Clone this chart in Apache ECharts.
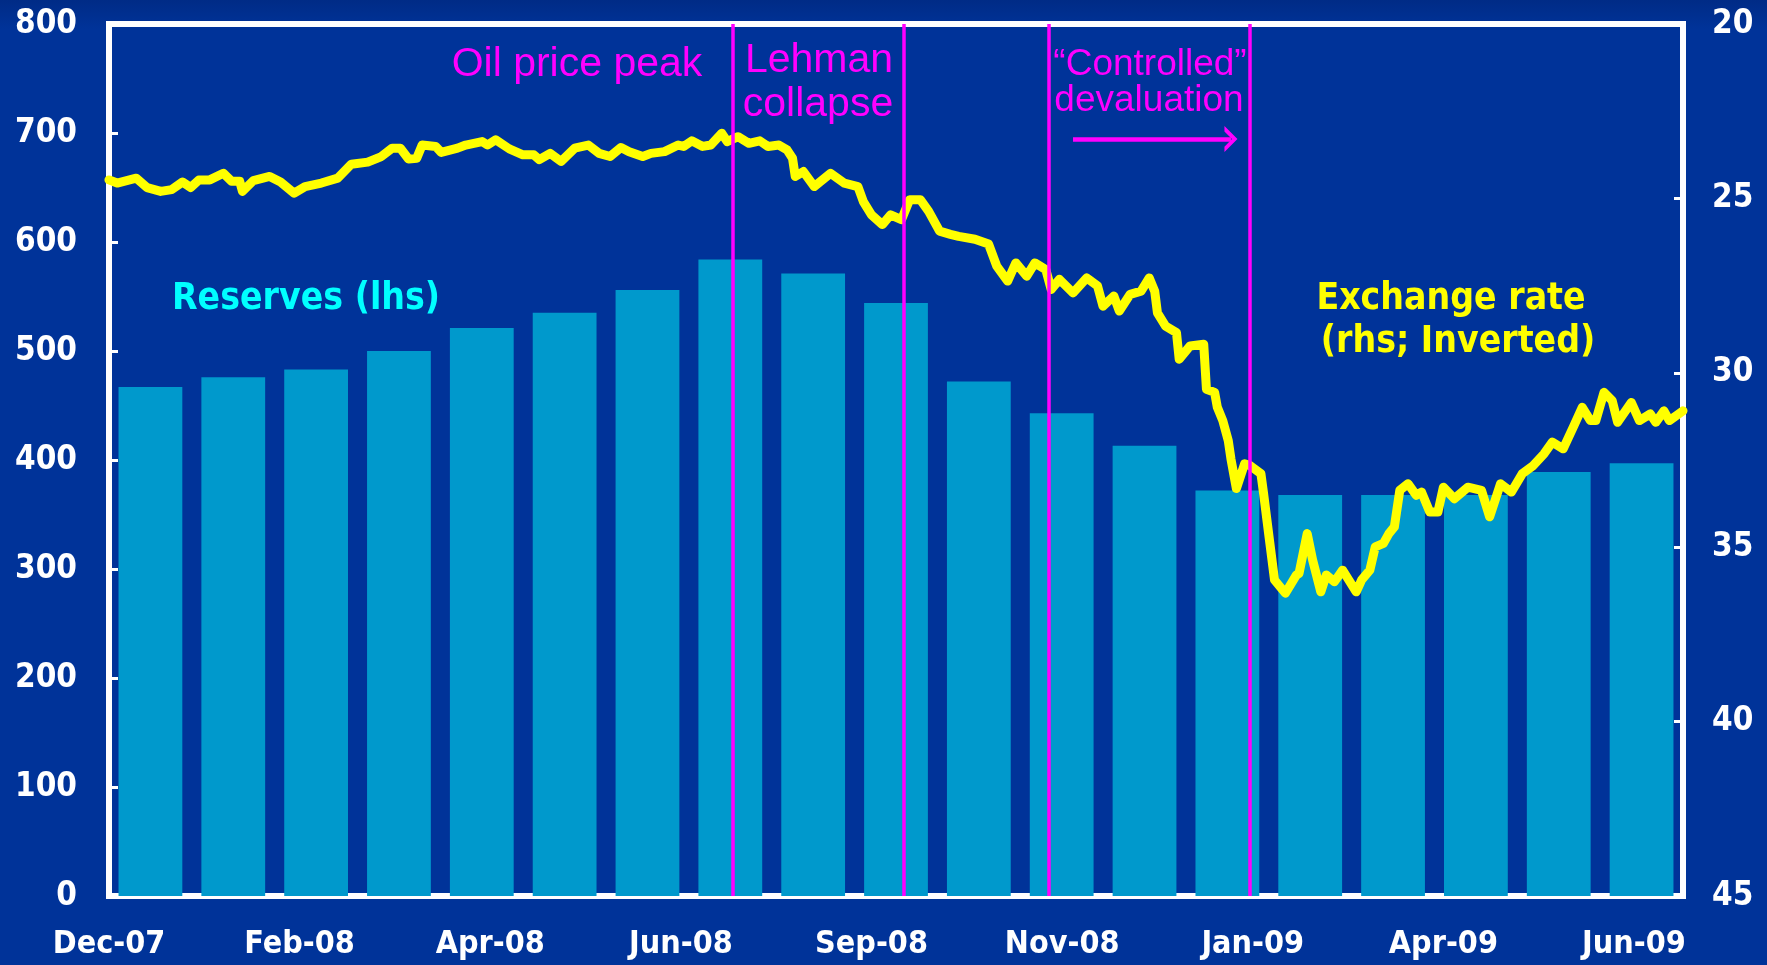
<!DOCTYPE html>
<html>
<head>
<meta charset="utf-8">
<title>Reserves and exchange rate</title>
<script src="https://cdn.jsdelivr.net/npm/echarts@6.0.0/dist/echarts.min.js"></script>
<style>
html, body { margin: 0; padding: 0; background: #003399; }
#chart { width: 1767px; height: 965px; }
</style>
</head>
<body>
<div id="chart"></div>
<script>
// monthly reserves (lhs)
var months = ['Dec-07','Jan-08','Feb-08','Mar-08','Apr-08','May-08','Jun-08','Jul-08','Aug-08','Sep-08',
	'Oct-08','Nov-08','Dec-08','Jan-09','Feb-09','Mar-09','Apr-09','May-09','Jun-09'];
var reserves = [467,476,483,500,521,535,556,584,571,544,472,443,413,372,368,368,368,389,397];

// exchange rate (rhs, inverted): days counted from 1 Dec 2007
var fxDay = [0,3,10,14,19,23,27,30,33,37,42,45,48,49,53,59,63,68,72,78,84,89,95,100,104,107,110,113,115,120,
	122,128,131,137,139,142,147,152,156,158,162,166,171,176,180,184,188,191,196,199,204,209,211,214,218,221,
	225,227,231,235,239,242,246,249,251,252,255,259,265,270,275,277,280,284,287,291,294,298,301,305,309,312,
	318,323,326,330,333,337,340,344,346,349,354,359,363,365,369,371,375,379,382,384,385,388,392,393,397,402,
	403,406,407,409,411,412,414,417,419,423,424,426,428,432,436,437,440,442,445,447,450,453,458,460,463,465,
	468,470,472,474,477,480,482,485,488,490,494,499,504,507,511,515,519,523,527,530,534,538,541,544,546,549,
	552,554,559,562,566,568,571,573,578];
var fxRate = [24.47,24.56,24.42,24.69,24.80,24.75,24.53,24.69,24.47,24.47,24.28,24.51,24.51,24.80,24.49,24.37,
	24.53,24.85,24.66,24.56,24.42,24.02,23.96,23.80,23.56,23.56,23.87,23.85,23.47,23.51,
	23.68,23.56,23.47,23.37,23.47,23.32,23.58,23.75,23.75,23.89,23.71,23.94,23.56,23.47,23.71,23.80,23.54,
	23.66,23.80,23.71,23.66,23.47,23.51,23.35,23.51,23.47,
	23.13,23.37,23.23,23.42,23.35,23.51,23.47,23.61,23.85,24.37,24.23,24.66,24.28,24.56,24.66,25.09,25.47,
	25.75,25.47,25.61,25.04,25.04,25.37,25.94,26.03,26.09,
	26.17,26.31,26.94,27.37,26.85,27.23,26.85,27.04,27.61,27.32,27.71,27.28,27.51,28.09,27.80,28.23,27.75,
	27.66,27.28,27.66,28.28,28.66,28.85,29.61,29.23,29.18,
	30.47,30.56,30.99,31.37,31.94,32.47,33.32,32.61,32.66,32.89,33.47,34.71,35.94,36.32,35.80,35.75,34.61,
	35.37,36.28,35.80,35.99,35.66,36.28,35.94,35.66,34.99,
	34.89,34.61,34.42,33.37,33.18,33.51,33.42,33.99,33.99,33.28,33.61,33.28,33.37,34.13,33.18,33.42,32.89,
	32.66,32.32,31.99,32.18,31.51,30.99,31.37,31.37,30.56,
	30.80,31.42,30.85,31.37,31.18,31.42,31.09,31.37,31.09];

// date axis labels and event lines
var xLabelDates = ['2007-12-01','2008-02-09','2008-04-19','2008-06-28','2008-09-06','2008-11-15','2009-01-24','2009-04-04','2009-06-13'];
var eventDates = ['2008-07-17','2008-09-18','2008-11-10','2009-01-23'];
var arrowDates = ['2008-11-19','2009-01-16'];
var arrowRate = 23.3;
var monthNames = ['Jan','Feb','Mar','Apr','May','Jun','Jul','Aug','Sep','Oct','Nov','Dec'];

var startDate = '2007-12-01';
var endDate = '2009-07-01';

function toTime(s){
	var p = s.split('-');
	return new Date(+p[0], +p[1]-1, +p[2]).getTime();
}
function dayToTime(d){
	return new Date(2007, 11, 1 + d).getTime();
}

var fxData = [];
for (var i = 0; i < fxDay.length; i++) {
	fxData.push([dayToTime(fxDay[i]), fxRate[i]]);
}

var tickFont = '"DejaVu Sans Condensed", "DejaVu Sans", sans-serif';
var noteFont = '"Liberation Sans", Arial, sans-serif';
var white = '#ffffff';
var chevron = 'path://M0,10 L10,0 L20,10 L15.8,10 L10,4.2 L4.2,10 Z';

var myChart = echarts.init(document.getElementById('chart'));
var option = {
	animation: false,
	backgroundColor: {
		type: 'linear', x: 0, y: 0, x2: 0, y2: 1,
		colorStops: [{offset: 0, color: '#002b86'}, {offset: 0.03, color: '#003399'}, {offset: 1, color: '#003399'}]
	},
	grid: {
		left: 109,
		right: 84,
		top: 24,
		bottom: 69,
		outerBoundsMode: 'none',
		show: true,
		borderColor: white,
		borderWidth: 6
	},
	xAxis: [
		{
			type: 'category',
			data: months,
			boundaryGap: true,
			axisLine: {lineStyle: {color: white, width: 6}},
			axisTick: {show: false},
			axisLabel: {show: false},
			splitLine: {show: false}
		},
		{
			// dates held as timestamps on a plain value axis
			type: 'value',
			position: 'bottom',
			min: toTime(startDate),
			max: toTime(endDate),
			axisLine: {show: false},
			axisTick: {show: false},
			splitLine: {show: false},
			axisLabel: {
				customValues: xLabelDates.map(toTime),
				margin: 33,
				color: white,
				fontFamily: tickFont,
				fontWeight: 'bold',
				fontSize: 32,
				formatter: function(v){
					var d = new Date(v);
					return monthNames[d.getMonth()] + '-' + String(d.getFullYear()).slice(2);
				}
			}
		}
	],
	yAxis: [
		{
			type: 'value',
			position: 'left',
			min: 0,
			max: 800,
			interval: 100,
			axisLine: {show: true, lineStyle: {color: white, width: 6}},
			axisTick: {show: true, inside: true, length: 9, lineStyle: {color: white, width: 3}},
			splitLine: {show: false},
			axisLabel: {margin: 32, color: white, fontFamily: tickFont, fontWeight: 'bold', fontSize: 33}
		},
		{
			type: 'value',
			position: 'right',
			inverse: true,
			min: 20,
			max: 45,
			interval: 5,
			axisLine: {show: true, lineStyle: {color: white, width: 6}},
			axisTick: {show: true, inside: true, length: 9, lineStyle: {color: white, width: 3}},
			splitLine: {show: false},
			axisLabel: {margin: 29, color: white, fontFamily: tickFont, fontWeight: 'bold', fontSize: 33}
		}
	],
	series: [
		{
			name: 'Reserves (lhs)',
			type: 'bar',
			xAxisIndex: 0,
			yAxisIndex: 0,
			data: reserves,
			barCategoryGap: '23%',
			itemStyle: {color: '#0099cc'},
			z: 1
		},
		{
			name: 'Exchange rate (rhs; Inverted)',
			type: 'line',
			xAxisIndex: 1,
			yAxisIndex: 1,
			data: fxData,
			symbol: 'none',
			lineStyle: {color: '#ffff00', width: 9, join: 'round', cap: 'round'},
			z: 3,
			markLine: {
				silent: true,
				symbol: ['none', 'none'],
				label: {show: false},
				lineStyle: {color: '#ff00ff', width: 3.5, type: 'solid'},
				data: eventDates.map(function(d){ return {xAxis: toTime(d)}; }).concat([[
					{coord: [toTime(arrowDates[0]), arrowRate], symbol: 'none', lineStyle: {width: 4.5}},
					{coord: [toTime(arrowDates[1]), arrowRate], symbol: chevron, symbolSize: [26, 13]}
				]])
			}
		}
	],
	graphic: [
		{type: 'text', x: 577, y: 65, style: {text: 'Oil price peak', fill: '#ff00ff', font: '41px ' + noteFont, align: 'center', verticalAlign: 'middle'}},
		{type: 'text', x: 819, y: 61, style: {text: 'Lehman', fill: '#ff00ff', font: '41px ' + noteFont, align: 'center', verticalAlign: 'middle'}},
		{type: 'text', x: 818, y: 105, style: {text: 'collapse', fill: '#ff00ff', font: '41px ' + noteFont, align: 'center', verticalAlign: 'middle'}},
		{type: 'text', x: 1150, y: 65, style: {text: '\u201cControlled\u201d', fill: '#ff00ff', font: '37px ' + noteFont, align: 'center', verticalAlign: 'middle'}},
		{type: 'text', x: 1149, y: 101, style: {text: 'devaluation', fill: '#ff00ff', font: '37px ' + noteFont, align: 'center', verticalAlign: 'middle'}},
		{type: 'text', x: 306, y: 299, style: {text: 'Reserves (lhs)', fill: '#00ffff', font: 'bold 37px ' + tickFont, align: 'center', verticalAlign: 'middle'}},
		{type: 'text', x: 1451, y: 299, style: {text: 'Exchange rate', fill: '#ffff00', font: 'bold 37px ' + tickFont, align: 'center', verticalAlign: 'middle'}},
		{type: 'text', x: 1458, y: 342, style: {text: '(rhs; Inverted)', fill: '#ffff00', font: 'bold 37px ' + tickFont, align: 'center', verticalAlign: 'middle'}}
	]
};
myChart.setOption(option);
</script>
</body>
</html>
